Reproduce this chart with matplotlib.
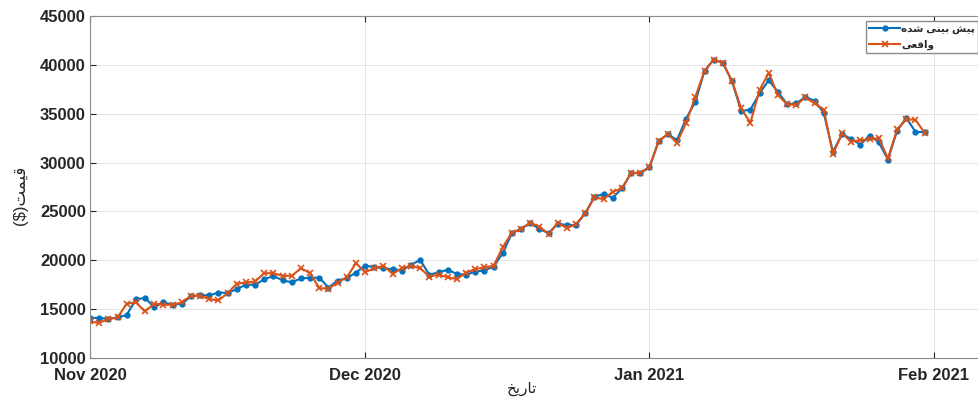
import pandas as pd
import matplotlib
matplotlib.use("Agg")
import matplotlib.pyplot as plt
import matplotlib.dates as mdates

plt.rcParams['font.family'] = ['Liberation Sans', 'DejaVu Sans']
plt.rcParams['font.weight'] = 'bold'

# Daily closing price, model output vs. observed (USD)
predicted = [14100, 14100, 14000, 14150, 14400, 16000, 16150, 15200, 15700, 15450,
             15550, 16300, 16450, 16400, 16700, 16650, 17050, 17500, 17500, 18050,
             18400, 17950, 17750, 18150, 18200, 18230, 17200, 17930, 18170, 18740,
             19460, 19290, 19190, 19090, 18950, 19530, 20040, 18510, 18780, 19020,
             18610, 18510, 18850, 18950, 19360, 20720, 22770, 23210, 23790, 23210,
             22770, 23720, 23620, 23620, 24810, 26510, 26780, 26400, 27360, 28930,
             28930, 29500, 32200, 32910, 32300, 34510, 36220, 39380, 40540, 40200,
             38330, 35260, 35430, 37070, 38430, 37240, 35980, 36050, 36730, 36320,
             35090, 31110, 32910, 32420, 31840, 32760, 32080, 30300, 33260, 34570,
             33150, 33100]
actual = [13750, 13580, 14000, 14150, 15550, 15690, 14770, 15550, 15450, 15450,
          15690, 16370, 16370, 16030, 15890, 16640, 17600, 17730, 17830, 18680,
          18680, 18410, 18410, 19190, 18680, 17150, 17100, 17720, 18270, 19700,
          18780, 19190, 19430, 18610, 19190, 19430, 19190, 18340, 18510, 18270,
          18070, 18740, 19090, 19290, 19430, 21340, 22830, 23210, 23850, 23440,
          22700, 23850, 23280, 23720, 24810, 26450, 26250, 27020, 27360, 28930,
          28980, 29550, 32200, 32910, 32030, 34070, 36730, 39380, 40540, 40200,
          38330, 35540, 34070, 37410, 39180, 36900, 35980, 35880, 36660, 36050,
          35430, 30870, 32980, 32130, 32300, 32370, 32520, 30430, 33390, 34410,
          34380, 33050]
dates = pd.date_range("2020-11-01", periods=len(actual), freq="D")

# Persian strings written with presentation forms in display order,
# since matplotlib does no Arabic-script shaping or bidi reordering
label_pred = "\uFEE9\uFEAA\uFEB7 \uFBFD\uFEE8\uFBFF\uFE91 \uFEB6\uFBFF\uFB58"   # پیش بینی شده
label_actual = "\uFBFD\uFECC\uFED7\uFE8D\uFEED"                                  # واقعی
label_price = "($)\uFE96\uFEE4\uFBFF\uFED7"                                     # قیمت($)
label_date = "\uFEA6\uFBFE\uFEAD\uFE8E\uFE97"                                   # تاریخ

blue = '#0072BD'
orange = '#D95319'
text_col = '#262626'

fig = plt.figure(figsize=(9.79, 3.97), dpi=100)
ax = fig.add_axes([90 / 979, 39 / 397, 908 / 979, 342 / 397])

ax.plot(dates, predicted, color=blue, lw=1.5, marker='o', ms=3.5, label=label_pred)
ax.plot(dates, actual, color=orange, lw=1.5, marker='x', ms=5, mew=1.2, label=label_actual)

ax.set_xlim(pd.Timestamp("2020-11-01"), pd.Timestamp("2021-02-08"))
ax.set_ylim(10000, 45000)
ax.set_yticks(range(10000, 45001, 5000))
ax.xaxis.set_major_locator(mdates.MonthLocator())
ax.xaxis.set_major_formatter(mdates.DateFormatter('%b %Y'))

ax.grid(True, color='#e4e4e4', lw=0.7)
ax.set_axisbelow(True)
for s in ax.spines.values():
    s.set_color('#8c8c8c')
    s.set_linewidth(0.8)
ax.tick_params(direction='in', length=4, labelsize=12, colors=text_col,
               top=True, right=True, pad=3)
ax.tick_params(axis='x', pad=7)

ax.set_xlabel(label_date, fontsize=11, color=text_col)
ax.xaxis.set_label_coords(0.476, -0.07)
ax.set_ylabel(label_price, fontsize=12, color=text_col)
ax.yaxis.set_label_coords(-0.068, 0.477)

leg = ax.legend(loc='upper left', bbox_to_anchor=(866 / 979, 1 - 21 / 397),
                bbox_transform=fig.transFigure, fontsize=7.5, handlelength=3.0,
                handletextpad=0.1, borderpad=0.3, borderaxespad=0, labelspacing=0.45,
                fancybox=False, framealpha=1, edgecolor='#8c8c8c')
for t in leg.get_texts():
    t.set_color(text_col)

fig.savefig('out.png', dpi=100)
